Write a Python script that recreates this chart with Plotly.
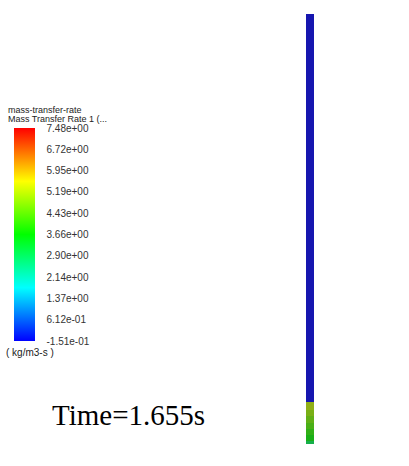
import plotly.graph_objects as go

# ---- data ----
tick_values = [7.48, 6.72, 5.95, 5.19, 4.43, 3.66, 2.90, 2.14, 1.37, 0.612, -0.151]
tick_labels = ["7.48e+00", "6.72e+00", "5.95e+00", "5.19e+00", "4.43e+00", "3.66e+00",
               "2.90e+00", "2.14e+00", "1.37e+00", "6.12e-01", "-1.51e-01"]
z_min = -0.151
z_max = 7.48
# column cells, from bottom to top: edges as fraction of column height, and cell values
column_edges = [0.0, 0.006, 0.02, 0.035, 0.05, 0.065, 0.08, 0.0977, 1.0]
column_values = [3.0, 3.7, 4.0, 4.3, 4.6, 4.9, 5.2, -0.151]
time_label = "Time=1.655s"
variable_name = "mass-transfer-rate"
variable_title = "Mass Transfer Rate 1 (..."
unit_label = "( kg/m3-s )"

# ---- styling / geometry ----
W, H = 409, 466
col_x0, col_x1 = 306, 314
col_top, col_bottom = 14, 444

rainbow = [[0.0, "rgb(0,0,255)"], [0.25, "rgb(0,255,255)"], [0.5, "rgb(0,255,0)"],
           [0.75, "rgb(255,255,0)"], [1.0, "rgb(255,0,0)"]]

def shade(cs, f, add=0):
    out = []
    for p, c in cs:
        r, g, b = [int(v) for v in c[4:-1].split(",")]
        out.append([p, f"rgb({int(r*f)+add},{int(g*f)+add},{int(b*f)+add})"])
    return out

col_y_edges = [col_bottom - e * (col_bottom - col_top) for e in column_edges]

fig = go.Figure()
fig.add_trace(go.Heatmap(
    z=[[v] for v in column_values],
    x=[col_x0, col_x1],
    y=col_y_edges,
    zmin=z_min, zmax=z_max,
    colorscale=shade(rainbow, 0.6, 22),
    showscale=False,
    hoverinfo="skip",
))

# colorbar holder
fig.add_trace(go.Scatter(
    x=[-50, -50], y=[-50, -50], mode="markers",
    marker=dict(
        color=[z_min, z_max], cmin=z_min, cmax=z_max, colorscale=rainbow,
        showscale=True,
        colorbar=dict(
            x=14 / W, xanchor="left", xref="paper",
            y=1 - 128 / H, yanchor="top", yref="paper",
            lenmode="pixels", len=213,
            thickness=21, thicknessmode="pixels",
            xpad=0, ypad=0, outlinewidth=0,
            tickmode="array", tickvals=tick_values, ticktext=tick_labels,
            ticks="outside", ticklen=10, tickcolor="rgba(0,0,0,0)",
            tickfont=dict(family="Liberation Sans, Arial", size=10, color="#333"),
        ),
    ),
    hoverinfo="skip", showlegend=False,
))

fig.add_annotation(x=6, y=110, xref="x", yref="y", text=variable_name, showarrow=False,
                   xanchor="left", yanchor="middle",
                   font=dict(family="Liberation Sans, Arial", size=9, color="#222"))
fig.add_annotation(x=6, y=119, xref="x", yref="y", text=variable_title, showarrow=False,
                   xanchor="left", yanchor="middle",
                   font=dict(family="Liberation Sans, Arial", size=9, color="#222"))
fig.add_annotation(x=4, y=352, xref="x", yref="y", text=unit_label, showarrow=False,
                   xanchor="left", yanchor="middle",
                   font=dict(family="Liberation Sans, Arial", size=10, color="#222"))
fig.add_annotation(x=50, y=415, xref="x", yref="y", text=time_label, showarrow=False,
                   xanchor="left", yanchor="middle",
                   font=dict(family="Liberation Serif, Times New Roman", size=29, color="#000"))

fig.update_layout(
    width=W, height=H,
    margin=dict(l=0, r=0, t=0, b=0),
    paper_bgcolor="white", plot_bgcolor="white",
    xaxis=dict(range=[0, W], visible=False, fixedrange=True),
    yaxis=dict(range=[H, 0], visible=False, fixedrange=True),
    showlegend=False,
)

fig.write_html("out.html", config={"displayModeBar": False},
               post_script="document.body.style.margin='0';document.body.style.overflow='hidden';")
